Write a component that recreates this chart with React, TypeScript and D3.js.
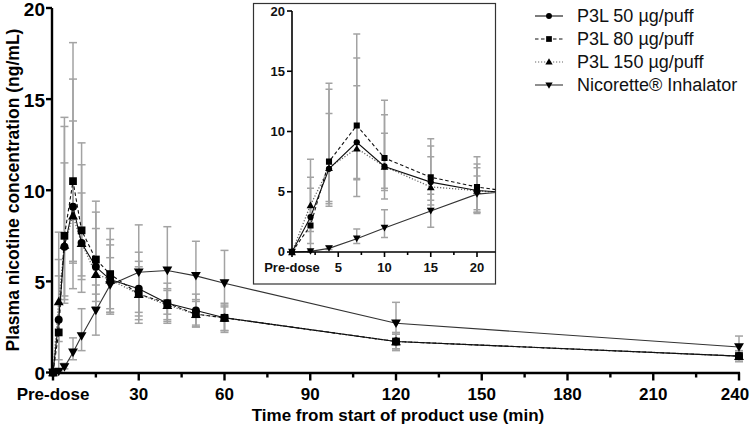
import React from "react";
import * as d3 from "d3";

const times = [0, 2, 4, 7, 10, 15, 20, 30, 40, 50, 60, 120, 240];

const p50 = [0, 2.9, 6.9, 9.1, 7.1, 5.8, 5.1, 4.6, 3.8, 3.4, 3.0, 1.7, 0.9];
const p50Hi = [0, 5.3, 13.5, 16.1, 11.4, 8.8, 7.3, 6.6, 4.9, 4.3, 3.8, 2.2, 1.2];
const p50Lo = [0, 0.7, 4.2, 6.1, 4.4, 3.6, 3.3, 3.1, 2.7, 2.5, 2.2, 1.2, 0.6];

const p80 = [0, 2.2, 7.5, 10.5, 7.8, 6.2, 5.4, 4.3, 3.8, 3.2, 3.0, 1.7, 0.9];
const p80Hi = [0, 6.2, 14.0, 18.1, 12.6, 9.4, 7.9, 6.1, 4.6, 4.0, 3.7, 2.1, 1.1];
const p80Lo = [0, 0, 3.8, 4.6, 5.1, 4.3, 3.5, 2.9, 2.9, 2.5, 2.3, 1.3, 0.6];

const p150 = [0, 3.9, 7.0, 8.6, 7.1, 5.4, 5.1, 4.3, 3.7, 3.2, 3.0, 1.7, 0.9];
const p150Hi = [0, 7.7, 11.5, 13.8, 9.85, 7.9, 7.0, 5.8, 4.5, 3.9, 3.6, 2.1, 1.1];
const p150Lo = [0, 1.7, 4.0, 6.0, 5.3, 3.9, 3.2, 3.3, 2.8, 2.6, 2.3, 1.3, 0.7];

const nic = [0, 0.05, 0.3, 1.1, 2.0, 3.4, 4.8, 5.5, 5.6, 5.3, 4.9, 2.7, 1.4];
const nicHi = [0, 0.1, 0.5, 1.9, 3.5, 4.8, 6.3, 8.1, 8.0, 7.2, 6.7, 3.85, 2.0];
const nicLo = [0, 0, 0.2, 0.7, 1.2, 2.05, 3.3, 2.7, 3.2, 3.4, 3.1, 1.55, 0.8];

const seriesNames = ["P3L 50 µg/puff", "P3L 80 µg/puff", "P3L 150 µg/puff", "Nicorette® Inhalator"];

const mainXTicks = [0, 30, 60, 90, 120, 150, 180, 210, 240];
const mainXTickLabels = ["Pre-dose", "30", "60", "90", "120", "150", "180", "210", "240"];
const mainXMinor = [15, 45, 75, 105, 135, 165, 195, 225];
const yTicks = [0, 5, 10, 15, 20];
const insetXTicks = [0, 5, 10, 15, 20];
const insetXTickLabels = ["Pre-dose", "5", "10", "15", "20"];
const insetXMinor = [2.5, 7.5, 12.5, 17.5];

type Series = {
  name: string;
  mean: number[];
  hi: number[];
  lo: number[];
  symbol: any;
  rotate: number;
  dash: string;
  color: string;
};

const series: Series[] = [
  { name: seriesNames[3], mean: nic, hi: nicHi, lo: nicLo, symbol: d3.symbolTriangle, rotate: 180, dash: "", color: "#333" },
  { name: seriesNames[2], mean: p150, hi: p150Hi, lo: p150Lo, symbol: d3.symbolTriangle, rotate: 0, dash: "1.2,1.8", color: "#666" },
  { name: seriesNames[1], mean: p80, hi: p80Hi, lo: p80Lo, symbol: d3.symbolSquare, rotate: 0, dash: "3.5,2.5", color: "#111" },
  { name: seriesNames[0], mean: p50, hi: p50Hi, lo: p50Lo, symbol: d3.symbolCircle, rotate: 0, dash: "", color: "#111" },
];

const legendOrder = [3, 2, 1, 0];

function symSize(s: Series, scale: number) {
  if (s.symbol === d3.symbolCircle) return 50 * scale;
  if (s.symbol === d3.symbolSquare) return 60 * scale;
  return 42 * scale;
}

function Plot({
  x, y, markerScale, capW, clipId,
}: { x: d3.ScaleLinear<number, number>; y: d3.ScaleLinear<number, number>; markerScale: number; capW: number; clipId?: string }) {
  return (
    <g clipPath={clipId ? `url(#${clipId})` : undefined}>
      {series.map((s, si) => (
        <g key={"e" + si} stroke="#a3a3a3" strokeWidth={1.5}>
          {times.map((t, i) => {
            if (s.hi[i] - s.lo[i] <= 0.01) return null;
            const cx = x(t);
            return (
              <g key={i}>
                <line x1={cx} x2={cx} y1={y(s.hi[i])} y2={y(s.lo[i])} />
                <line x1={cx - capW} x2={cx + capW} y1={y(s.hi[i])} y2={y(s.hi[i])} />
                <line x1={cx - capW} x2={cx + capW} y1={y(s.lo[i])} y2={y(s.lo[i])} />
              </g>
            );
          })}
        </g>
      ))}
      {series.map((s, si) => {
        const line = d3.line<number>().x((_, i) => x(times[i])).y((v) => y(v));
        return (
          <path key={"l" + si} d={line(s.mean) || ""} fill="none" stroke={s.color}
            strokeWidth={s.dash === "1.2,1.8" ? 1.3 : 1.1} strokeDasharray={s.dash || undefined} />
        );
      })}
      {series.map((s, si) => {
        const p = d3.symbol().type(s.symbol).size(symSize(s, markerScale))() || "";
        return (
          <g key={"m" + si} fill="#000">
            {times.map((t, i) => (
              <path key={i} d={p}
                transform={`translate(${x(t)},${y(s.mean[i]) + (s.rotate ? -1 : (s.symbol === d3.symbolTriangle ? 1 : 0))}) rotate(${s.rotate})`} />
            ))}
          </g>
        );
      })}
    </g>
  );
}

export default function App() {
  const W = 750, H = 435;
  const font = "Liberation Sans, Arial, Helvetica, sans-serif";

  const x = d3.scaleLinear().domain([0, 240]).range([53, 739]);
  const y = d3.scaleLinear().domain([0, 20]).range([372.5, 8]);

  const ix = d3.scaleLinear().domain([0, 20]).range([292, 477]);
  const iy = d3.scaleLinear().domain([0, 20]).range([252, 11]);
  const ixMax = 22.0;

  return (
    <svg width={W} height={H} style={{ position: "absolute", left: 0, top: 0, background: "#fff" }}
      fontFamily={font}>
      <defs>
        <clipPath id="insetClip">
          <rect x={280} y={4} width={ix(ixMax) - 280} height={iy(0) - 4 + 6} />
        </clipPath>
      </defs>
      <rect width={W} height={H} fill="#fff" />

      {/* Main plot */}
      <Plot x={x} y={y} markerScale={1} capW={4} />

      {/* main axes */}
      <g stroke="#000" strokeWidth={2.4} fill="none">
        <line x1={x(0) - 1} x2={x(0) - 1} y1={y(20)} y2={y(0) + 1.2} />
        <line x1={x(0) - 2.2} x2={x(240) + 1} y1={y(0) + 0.5} y2={y(0) + 0.5} />
        {yTicks.map((t) => (
          <line key={t} x1={x(0) - 7} x2={x(0) - 1} y1={y(t)} y2={y(t)} />
        ))}
        {mainXTicks.map((t) => (
          <line key={t} x1={x(t)} x2={x(t)} y1={y(0)} y2={y(0) + 8} />
        ))}
        {mainXMinor.map((t) => (
          <line key={t} x1={x(t)} x2={x(t)} y1={y(0)} y2={y(0) + 5} />
        ))}
      </g>
      <g fontWeight="bold" fill="#000">
        {yTicks.map((t) => (
          <text key={t} x={x(0) - 8} y={y(t)} dy="0.41em" textAnchor="end" fontSize={19}>{t}</text>
        ))}
        {mainXTicks.map((t, i) => (
          <text key={t} x={i === mainXTicks.length - 1 ? x(t) - 4 : x(t)} y={400} textAnchor="middle" fontSize={17}>{mainXTickLabels[i]}</text>
        ))}
        <text x={398} y={421} textAnchor="middle" fontSize={17}>Time from start of product use (min)</text>
        <text transform="translate(19,190) rotate(-90)" textAnchor="middle" fontSize={17.5}>Plasma nicotine concentration (ng/mL)</text>
      </g>

      {/* Inset */}
      <rect x={253.5} y={3.5} width={242} height={280.5} fill="#fff" stroke="#333" strokeWidth={1.2} />
      <Plot x={ix} y={iy} markerScale={0.62} capW={3.5} clipId="insetClip" />
      <g stroke="#000" strokeWidth={1.6} fill="none">
        <line x1={ix(0)} x2={ix(0)} y1={iy(20)} y2={iy(0)} />
        <line x1={ix(0) - 1} x2={ix(ixMax)} y1={iy(0)} y2={iy(0)} />
        {yTicks.map((t) => (
          <line key={t} x1={ix(0) - 5} x2={ix(0)} y1={iy(t)} y2={iy(t)} />
        ))}
        {insetXTicks.map((t) => (
          <line key={t} x1={ix(t)} x2={ix(t)} y1={iy(0)} y2={iy(0) + 5} />
        ))}
        {insetXMinor.map((t) => (
          <line key={t} x1={ix(t)} x2={ix(t)} y1={iy(0)} y2={iy(0) + 3} />
        ))}
      </g>
      <g fontSize={13} fontWeight="bold" fill="#111">
        {yTicks.map((t) => (
          <text key={t} x={ix(0) - 7} y={iy(t) - (t === 0 ? 1 : 0)} dy="0.36em" textAnchor="end">{t}</text>
        ))}
        {insetXTicks.map((t, i) => (
          <text key={t} x={ix(t)} y={272} textAnchor="middle">{insetXTickLabels[i]}</text>
        ))}
      </g>

      {/* Legend */}
      <g fontSize={18} fill="#111">
        {legendOrder.map((si, row) => {
          const s = series[si];
          const ly = 16 + row * 23;
          const p = d3.symbol().type(s.symbol).size(symSize(s, 0.55))() || "";
          return (
            <g key={si}>
              <line x1={535} x2={563} y1={ly} y2={ly} stroke={s.color} strokeWidth={1.1}
                strokeDasharray={s.dash || undefined} />
              <path d={p} fill="#000" transform={`translate(549,${ly + (s.rotate ? -0.5 : s.symbol === d3.symbolTriangle ? 0.5 : 0)}) rotate(${s.rotate})`} />
              <text x={577} y={ly} dy="0.35em">{s.name}</text>
            </g>
          );
        })}
      </g>
    </svg>
  );
}
